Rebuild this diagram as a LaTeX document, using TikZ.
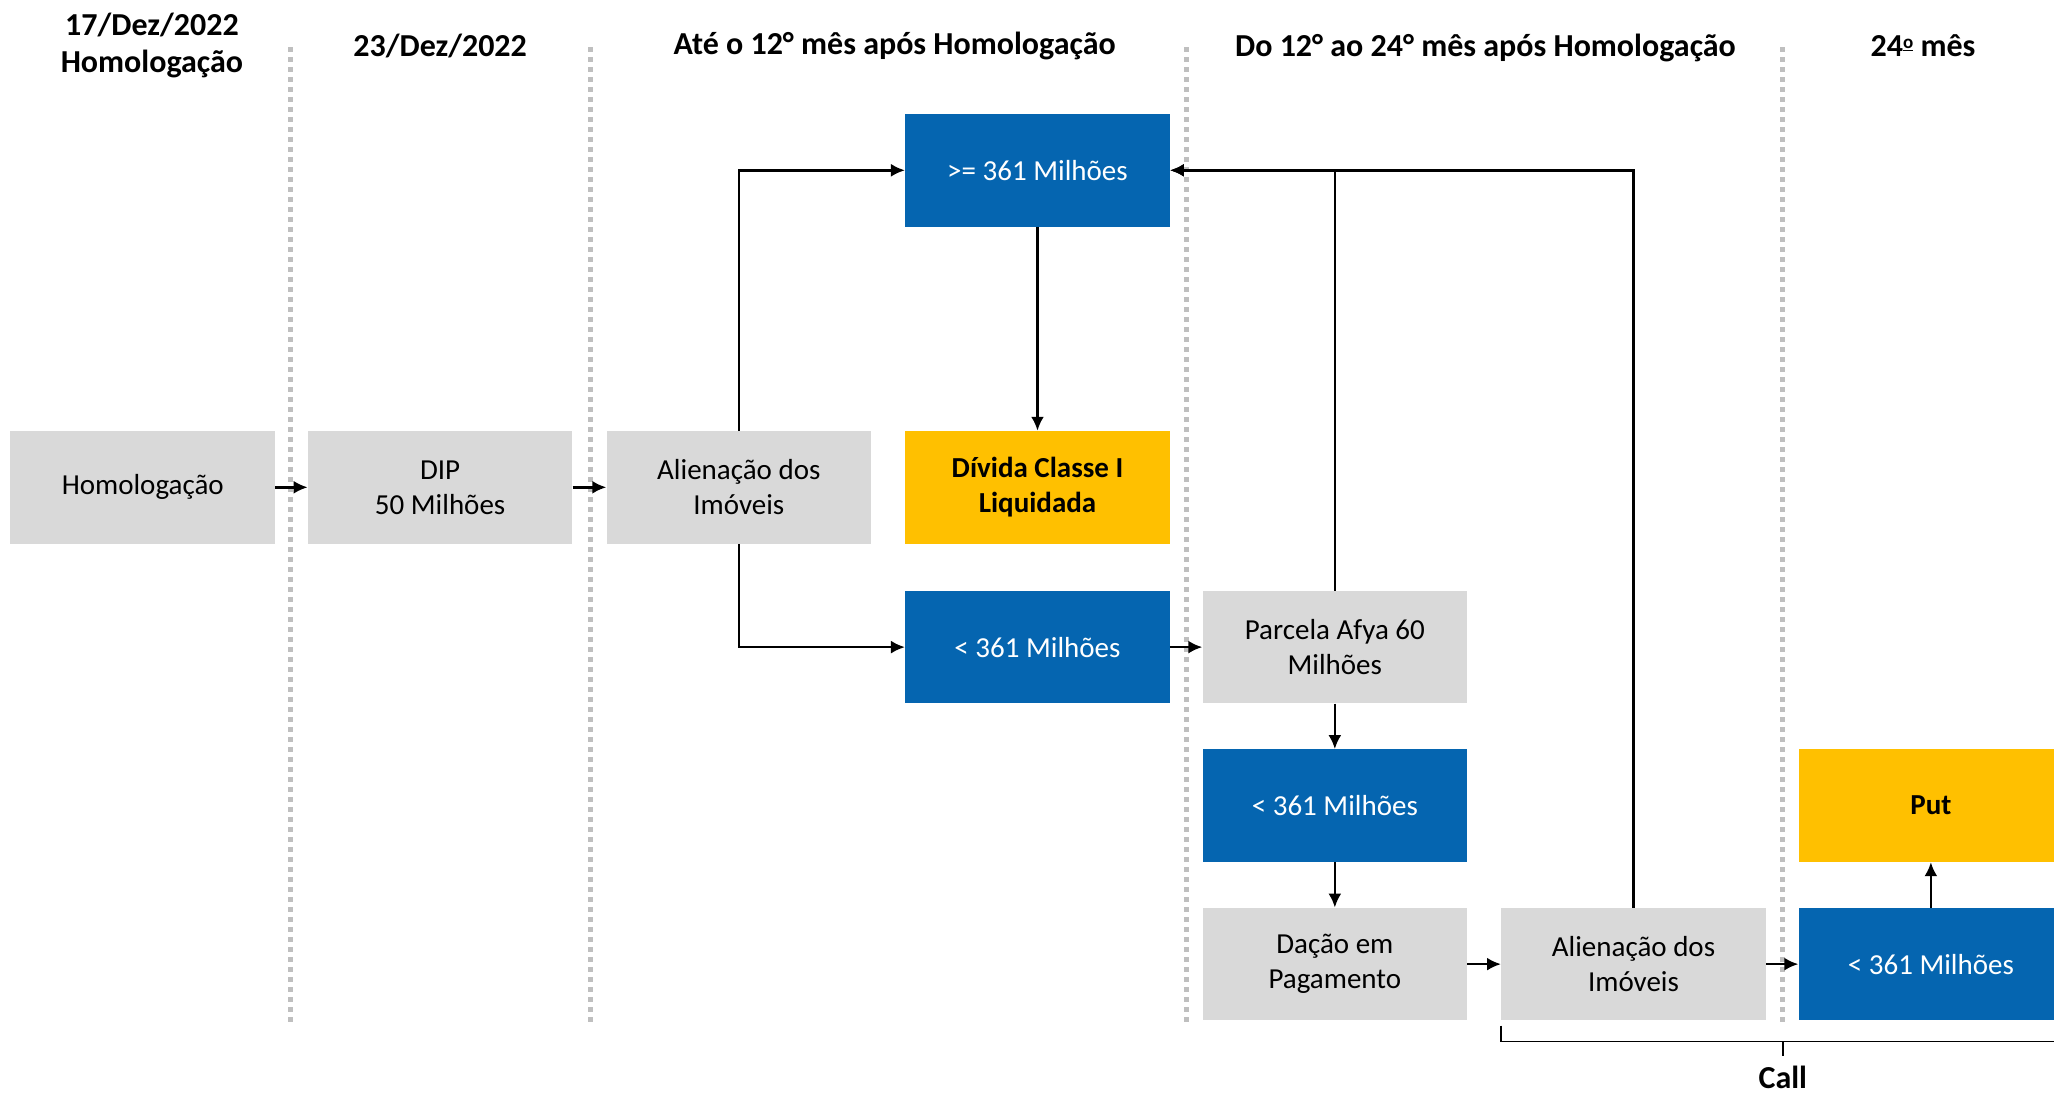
\documentclass[tikz,border=0pt]{standalone}
\usepackage{fontspec}
\setmainfont{Carlito}
\usetikzlibrary{arrows.meta}
\definecolor{boxgray}{HTML}{D9D9D9}
\definecolor{boxblue}{HTML}{0565B0}
\definecolor{boxyellow}{HTML}{FFC000}
\definecolor{sepgray}{HTML}{BFBFBF}
\newcommand{\ordo}{\raisebox{0.5ex}{\fontsize{19}{19}\selectfont\underline{o}}}
\tikzset{
 box/.style={minimum width=264.6pt, minimum height=112.7pt, inner sep=0pt, align=center, font=\fontsize{29}{35}\selectfont},
 gbox/.style={box, fill=boxgray},
 bbox/.style={box, fill=boxblue, text=white},
 ybox/.style={box, fill=boxyellow, font=\fontsize{29}{35}\selectfont\bfseries},
 arr/.style={-{Latex[length=14pt,width=13pt]}, line width=2.6pt},
 sepline/.style={draw=sepgray, line width=5pt, dash pattern=on 5pt off 5pt},
 hdr/.style={font=\fontsize{32}{37}\selectfont\bfseries, align=center, inner sep=0pt},
 brk/.style={line width=1.6pt}
}
\begin{document}
\begin{tikzpicture}[x=1.31pt,y=-1.31pt]
\clip (0,0) rectangle (1568,835);
\useasboundingbox (0,0) rectangle (1568,835);
\fill[white] (0,0) rectangle (1568,835);
% separators
\foreach \i/\xx in {1/222,2/451,3/906,4/1361}{
  \coordinate (st\i) at (\xx,36);
  \coordinate (sb\i) at (\xx,780);
  \draw[sepline] (st\i) -- (sb\i);
}
% headers
\node[hdr] (h1) at (116,35) {17/Dez/2022\\Homologação};
\node[hdr] (h2) at (336,35) {23/Dez/2022};
\node[hdr] (h3) at (683,35) {Até o 12° mês após Homologação};
\node[hdr] (h4) at (1134,37) {Do 12° ao 24° mês após Homologação};
\node[hdr] (h5) at (1468,35) {24\ordo{} mês};
% boxes
\node[gbox] (hom) at (109,372) {Homologação};
\node[gbox] (dip) at (336,372) {DIP\\50 Milhões};
\node[gbox] (ali1) at (564,372) {Alienação dos\\Imóveis};
\node[bbox] (ge) at (792,130) {>= 361 Milhões};
\node[ybox] (div) at (792,372) {Dívida Classe I\\Liquidada};
\node[bbox] (lt1) at (792,494) {< 361 Milhões};
\node[gbox] (parc) at (1019,494) {Parcela Afya 60\\Milhões};
\node[bbox] (lt2) at (1019,615) {< 361 Milhões};
\node[gbox] (dac) at (1019,736) {Dação em\\Pagamento};
\node[gbox] (ali2) at (1247,736) {Alienação dos\\Imóveis};
\node[bbox] (lt3) at (1474,736) {< 361 Milhões};
\node[ybox] (put) at (1474,615) {Put};
% connectors
\draw[arr] (hom) -- (dip);
\draw[arr] (dip) -- (ali1);
\draw[arr] (ali1.north) |- (ge.west);
\draw[arr] (ali1.south) |- (lt1.west);
\draw[arr] (ge) -- (div);
\draw[arr] (lt1) -- (parc);
\draw[arr] (parc.north) |- (ge.east);
\draw[arr] (ali2.north) |- (ge.east);
\draw[arr] (parc) -- (lt2);
\draw[arr] (lt2) -- (dac);
\draw[arr] (dac) -- (ali2);
\draw[arr] (ali2) -- (lt3);
\draw[arr] (lt3) -- (put);
% bracket
\coordinate (brL) at (1146,783);
\coordinate (brR) at (1580,795);
\coordinate (brM) at (1361,795);
\coordinate (brT) at (1361,806);
\draw[brk] (brL) |- (brR);
\draw[brk] (brM) -- (brT);
\node[hdr, anchor=base] (call) at (1361,831) {Call};
\end{tikzpicture}
\end{document}
